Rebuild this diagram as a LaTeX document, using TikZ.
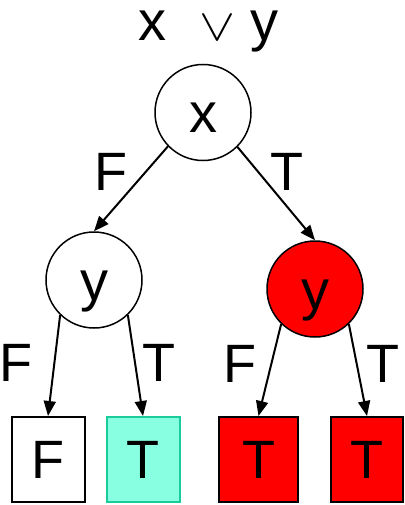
\documentclass[tikz,border=0pt]{standalone}
\usepackage{fontspec}
\setmainfont{Liberation Sans}
\usepackage{graphicx}
\usetikzlibrary{arrows.meta}
\definecolor{aqua}{HTML}{88FFE0}
\definecolor{aquaedge}{HTML}{1ACC99}
\definecolor{myred}{HTML}{FF0000}
\tikzset{
  vnode/.style={circle, draw=black, line width=1.5pt, minimum size=96pt, inner sep=0pt,
    font=\fontsize{56}{56}\selectfont, text height=40pt, text depth=0pt},
  leaf/.style={rectangle, draw=black, line width=2pt, minimum height=85pt, inner sep=0pt,
    font=\fontsize{54}{54}\selectfont},
  lbl/.style={inner sep=0pt, font=\fontsize{54}{54}\selectfont},
  edge/.style={line width=2pt, -{Triangle[length=15pt,width=12pt]}}
}
\begin{document}
\begin{tikzpicture}[x=1pt,y=-1pt]
\useasboundingbox (0,0) rectangle (404,505);
\node[inner sep=0pt, anchor=base west, text height=30pt, text depth=0pt, font=\fontsize{56}{56}\selectfont] (title) at (138,41) {x\hspace{33pt}{\fontsize{10}{12}\selectfont\scalebox{5.4}[4.5]{$\vee$}}\hspace{15pt}y};
\node[vnode] (x) at (203,112.5) {x};
\node[vnode] (yl) at (94,280) {y};
\node[vnode, fill=myred] (yr) at (315,289) {y};
\node[leaf, minimum width=73pt] (f1) at (48,459.5) {F};
\node[leaf, minimum width=73pt, fill=aqua, draw=aquaedge] (t1) at (143,459.5) {T};
\node[leaf, minimum width=79pt, fill=myred] (t2) at (258.5,459.5) {T};
\node[leaf, minimum width=72pt, fill=myred] (t3) at (367,459.5) {T};
\draw[edge] (x.224) -- (yl.north);
\draw[edge] (x.315) -- (yr.north);
\draw[edge] (yl.226) -- (f1.north);
\draw[edge] (yl.314) -- (t1.north);
\draw[edge] (yr.226) -- (t2.north);
\draw[edge] (yr.314) -- (t3.north);
\node[lbl] (l1) at (111,172) {F};
\node[lbl] (l2) at (287,172) {T};
\node[lbl] (l3) at (16,363) {F};
\node[lbl] (l4) at (159,363) {T};
\node[lbl] (l5) at (240,364) {F};
\node[lbl] (l6) at (383,364) {T};
\end{tikzpicture}
\end{document}
